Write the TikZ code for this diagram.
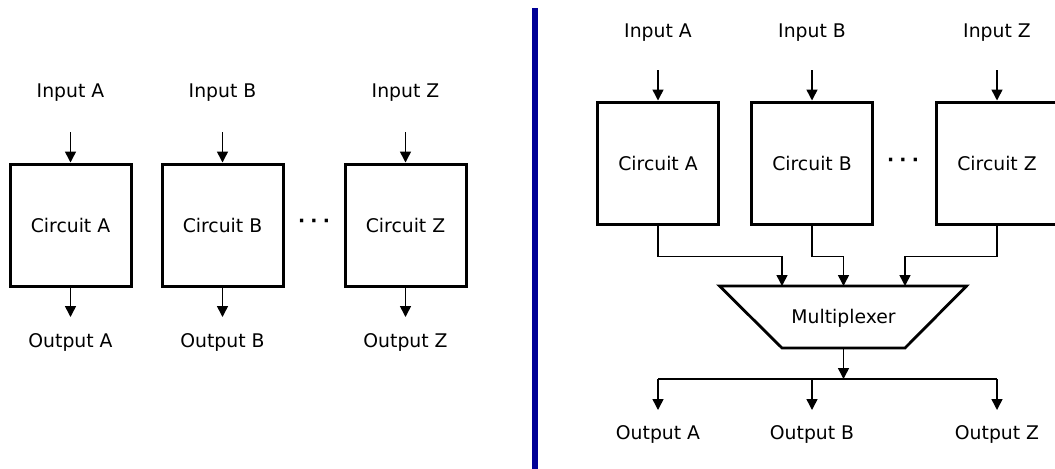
\documentclass[tikz,border=0pt]{standalone}
\usepackage{fontspec}
\setmainfont{DejaVu Sans}
\usepackage{tikz}
\usetikzlibrary{
arrows.meta,
positioning
}
\definecolor{sepblue}{RGB}{0,0,150}

\begin{document}
\begin{tikzpicture}[x=0.5pt, y=-0.5pt,
  >={Triangle[length=5.5pt, width=5.5pt]},
  every node/.style={font=\fontsize{9.4}{11}\selectfont},
  circuit/.style={draw, line width=1.5pt, minimum width=60.5pt,
    minimum height=61pt, inner sep=0pt},
  muxline/.style={line width=1.4pt, line join=miter},
  wire/.style={line width=0.75pt},
  gapdots/.style={font=\fontsize{9.4}{11}\selectfont\bfseries}]

\useasboundingbox (0,0) rectangle (1055,468);

%% Left: one circuit per input
\foreach \n/\x in {A/70.5, B/222.5, Z/405.5}{
  \node[circuit] (lc\n) at (\x,225) {Circuit \n};
  \node (lin\n) at (\x,93) {Input \n};
  \node (lout\n) at (\x,342) {Output \n};
  \coordinate (lsrc\n) at (\x,132);
  \coordinate (lend\n) at (\x,317);
  \draw[wire, ->] (lsrc\n) -- (lc\n);
  \draw[wire, ->] (lc\n) -- (lend\n);
}
\node[gapdots] (ldots) at (314,223) {·\;·\;·};

%% Separator
\draw[sepblue, line width=3pt] (535,8) -- (535,470);

%% Right: circuits feeding a multiplexer
\foreach \n/\x in {A/658, B/812, Z/997}{
  \node[circuit] (rc\n) at (\x,163) {Circuit \n};
  \node (rin\n) at (\x,33) {Input \n};
  \node (rout\n) at (\x,434) {Output \n};
  \coordinate (rsrc\n) at (\x,70);
  \coordinate (rbus\n) at (\x,379);
  \coordinate (rend\n) at (\x,410);
  \draw[wire, ->] (rsrc\n) -- (rc\n);
  \draw[wire, ->] (rbus\n) -- (rend\n);
}
\node[gapdots] (rdots) at (903,162) {·\;·\;·};

%% Multiplexer
\coordinate (mtl) at (719.5,286);
\coordinate (mtr) at (966.5,286);
\coordinate (mbr) at (905,348);
\coordinate (mbl) at (782,348);
\draw[muxline] (mtl) -- (mtr) -- (mbr) -- (mbl) -- cycle;
\node (mux) at (843.5,318) {Multiplexer};
\coordinate (minA) at (782,286);
\coordinate (minB) at (843.5,286);
\coordinate (minZ) at (905,286);
\coordinate (mout) at (843.5,348);
\coordinate (mbus) at (843.5,379);

\draw[wire, ->] (rcA.south) -- ++(0,31) -| (minA);
\draw[wire, ->] (rcB.south) -- ++(0,31) -| (minB);
\draw[wire, ->] (rcZ.south) -- ++(0,31) -| (minZ);

%% Output bus
\draw[wire, ->] (mout) -- (mbus);
\draw[wire] (rbusA) -- (rbusZ);

\end{tikzpicture}
\end{document}
